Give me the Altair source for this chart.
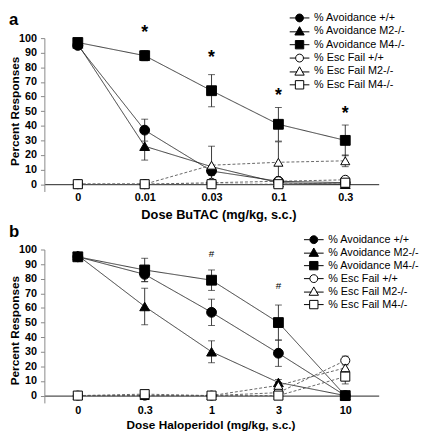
import altair as alt
import pandas as pd

series = ["% Avoidance +/+", "% Avoidance M2-/-", "% Avoidance M4-/-",
          "% Esc Fail +/+", "% Esc Fail M2-/-", "% Esc Fail M4-/-"]
kinds = ["avoid", "avoid", "avoid", "esc", "esc", "esc"]

# Panel a: BuTAC
a_doses = ["0", "0.01", "0.03", "0.1", "0.3"]
a_avoid_wt = [95, 37, 9, 2, 1]
a_avoid_m2 = [96, 26, 12, 1, 0]
a_avoid_m4 = [97, 88, 64, 41, 30]
a_esc_wt = [0, 0, 1, 2, 3]
a_esc_m2 = [0, 0, 13, 15, 16]
a_esc_m4 = [0, 0, 0, 0, 1]
a_err_avoid_wt = [2, 7.5, 3, 1, 0]
a_err_avoid_m2 = [2, 9.5, 0, 0, 0]
a_err_avoid_m4 = [2, 3.5, 11, 11.5, 10.5]
a_err_esc_wt = [0, 0, 0, 1, 1]
a_err_esc_m2 = [0, 0, 13, 14, 4]
a_err_esc_m4 = [0, 0, 0, 0, 0]
a_sig_doses = ["0.01", "0.03", "0.1", "0.3"]
a_sig_y = [104, 87, 61, 49]

# Panel b: Haloperidol
b_doses = ["0", "0.3", "1", "3", "10"]
b_avoid_wt = [95, 83, 57, 29, 0]
b_avoid_m2 = [96, 61, 30, 9, 0]
b_avoid_m4 = [95, 86, 79, 50, 0]
b_esc_wt = [0, 0, 0, 2, 24]
b_esc_m2 = [0, 0, 0, 7, 19]
b_esc_m4 = [0, 1, 0, 0, 13]
b_err_avoid_wt = [2, 5, 9, 9, 0]
b_err_avoid_m2 = [1, 12.5, 7.5, 2, 0]
b_err_avoid_m4 = [2, 8, 7, 12, 0]
b_err_esc_wt = [0, 0, 0, 1, 3]
b_err_esc_m2 = [0, 0, 0, 2, 5]
b_err_esc_m4 = [0, 0, 0, 0, 5]
b_sig_doses = ["1", "3"]
b_sig_y = [97.5, 75]

FONT = "Liberation Sans"
W, H = 340, 156
Y_DOM = [-5, 100]

shapes_main = ["circle", "triangle-up", "square", "circle", "triangle-up", "square"]
fills = ["black", "black", "black", "white", "white", "white"]
legend_paths = [
    "M-2,0H-0.8M0.8,0H2M0.8,0A0.8,0.8,0,1,1,-0.8,0A0.8,0.8,0,1,1,0.8,0Z",
    "M-2,0.1H-0.5M0.5,0.1H2M0,-0.95L0.95,0.75L-0.95,0.75Z",
    "M-2,0H-0.85M0.85,0H2M-0.85,-0.85L0.85,-0.85L0.85,0.85L-0.85,0.85Z",
    "M-2,0H-0.8M0.8,0H2M0.8,0A0.8,0.8,0,1,1,-0.8,0A0.8,0.8,0,1,1,0.8,0Z",
    "M-2,0.1H-0.5M0.5,0.1H2M0,-0.95L0.95,0.75L-0.95,0.75Z",
    "M-2,0H-0.85M0.85,0H2M-0.85,-0.85L0.85,-0.85L0.85,0.85L-0.85,0.85Z",
]


def panel(doses, vals, errs, sig_doses, sig_y, sig_text, sig_size, sig_weight, sig_dy,
          letter, xtitle, xtitle_size, title_x, label_pad, title_pad, title_y,
          leg_sym_x, leg_lab_x, leg_y0, leg_y1):
    rows = []
    for s, k, v, e in zip(series, kinds, vals, errs):
        for d, vv, ee in zip(doses, v, e):
            rows.append(dict(dose=d, series=s, kind=k, value=vv, err=ee,
                             lo=vv - ee, hi=vv + ee))
    df = pd.DataFrame(rows)
    base = alt.Chart(df)

    xs = alt.Scale(type="point", padding=0.5, domain=doses)
    x_axis = alt.Axis(title=xtitle, labelAngle=0, labelFontWeight="bold", labelFontSize=11,
                      labelColor="black", labelPadding=label_pad, ticks=False,
                      domainColor="#222", domainWidth=1, offset=-5 * H / 105,
                      titleFontSize=xtitle_size, titleFontWeight="bold", titleColor="black",
                      titlePadding=title_pad, titleX=title_x, grid=False)
    ys = alt.Scale(domain=Y_DOM, nice=False, zero=False)
    y_axis = alt.Axis(title="Percent Responses", values=list(range(0, 101, 10)),
                      labelFontWeight="bold", labelFontSize=11, labelColor="black",
                      labelPadding=4, tickSize=4, tickColor="#888", domainColor="#888",
                      titleFontSize=12, titleFontWeight="bold", titleColor="black",
                      titlePadding=-3, titleY=title_y, grid=False)
    X = alt.X("dose:N", scale=xs, axis=x_axis, sort=doses)

    lines = base.mark_line(strokeWidth=0.9).encode(
        x=X, y=alt.Y("value:Q", scale=ys, axis=y_axis),
        detail="series:N",
        color=alt.Color("kind:N", scale=alt.Scale(domain=["avoid", "esc"], range=["#222", "#555"]), legend=None),
        strokeDash=alt.StrokeDash("kind:N", scale=alt.Scale(domain=["avoid", "esc"], range=[[1, 0], [3, 2]]), legend=None),
    )
    eb = base.transform_filter("datum.err > 0")
    rules = eb.mark_rule(color="#222", strokeWidth=0.9).encode(
        x=X, y=alt.Y("lo:Q", scale=ys, axis=y_axis), y2="hi:Q")
    cap_lo = eb.mark_tick(color="#222", size=7, thickness=1).encode(
        x=X, y=alt.Y("lo:Q", scale=ys, axis=y_axis))
    cap_hi = eb.mark_tick(color="#222", size=7, thickness=1).encode(
        x=X, y=alt.Y("hi:Q", scale=ys, axis=y_axis))
    pts_avoid = base.transform_filter("datum.kind == 'avoid'").mark_point(
        filled=True, size=100, strokeWidth=1, opacity=1).encode(
        x=X, y=alt.Y("value:Q", scale=ys, axis=y_axis),
        shape=alt.Shape("series:N", scale=alt.Scale(domain=series, range=shapes_main), legend=None),
        fill=alt.Fill("series:N", scale=alt.Scale(domain=series, range=fills), legend=None),
        stroke=alt.value("black"))
    pts_esc = base.transform_filter("datum.kind == 'esc'").mark_point(
        filled=True, size=85, strokeWidth=1, opacity=1).encode(
        x=X, y=alt.Y("value:Q", scale=ys, axis=y_axis),
        shape=alt.Shape("series:N", scale=alt.Scale(domain=series, range=shapes_main), legend=None),
        fill=alt.Fill("series:N", scale=alt.Scale(domain=series, range=fills), legend=None),
        stroke=alt.value("black"))

    sig = alt.Chart(pd.DataFrame({"dose": sig_doses, "sy": sig_y, "t": [sig_text] * len(sig_doses)})).mark_text(
        fontSize=sig_size, fontWeight=sig_weight, baseline="alphabetic", dy=sig_dy, color="black").encode(
        x=X, y=alt.Y("sy:Q", scale=ys, axis=y_axis), text="t:N")

    let = alt.Chart(pd.DataFrame({"t": [letter]})).mark_text(
        fontSize=17, fontWeight="bold", align="left", baseline="top", color="black").encode(
        text="t:N", x=alt.value(-36), y=alt.value(-26))

    data_layer = alt.layer(lines, rules, cap_lo, cap_hi, pts_avoid, pts_esc, sig, let)

    # legend built from the series list
    ldf = pd.DataFrame({"lser": series})
    LY = alt.Y("lser:N", scale=alt.Scale(type="point", domain=series, range=[leg_y0, leg_y1], padding=0),
               axis=None, sort=series)
    leg_sym = alt.Chart(ldf).mark_point(filled=True, size=100, strokeWidth=1, opacity=1,
                                        stroke="black").encode(
        x=alt.value(leg_sym_x), y=LY,
        shape=alt.Shape("lser:N", scale=alt.Scale(domain=series, range=legend_paths), legend=None),
        fill=alt.Fill("lser:N", scale=alt.Scale(domain=series, range=fills), legend=None))
    leg_txt = alt.Chart(ldf).mark_text(align="left", baseline="middle", fontSize=11,
                                       color="black").encode(
        x=alt.value(leg_lab_x), y=LY, text="lser:N")
    legend_layer = alt.layer(leg_sym, leg_txt)

    return alt.layer(data_layer, legend_layer).resolve_scale(
        y="independent", shape="independent", fill="independent").properties(width=W, height=H)


pa = panel(a_doses,
           [a_avoid_wt, a_avoid_m2, a_avoid_m4, a_esc_wt, a_esc_m2, a_esc_m4],
           [a_err_avoid_wt, a_err_avoid_m2, a_err_avoid_m4, a_err_esc_wt, a_err_esc_m2, a_err_esc_m4],
           a_sig_doses, a_sig_y, "*", 18, "bold", 6,
           "a", "Dose BuTAC (mg/kg, s.c.)", 13, 177, 8, 6, 74,
           259.5, 274.3, -20.5, 47.5)
pb = panel(b_doses,
           [b_avoid_wt, b_avoid_m2, b_avoid_m4, b_esc_wt, b_esc_m2, b_esc_m4],
           [b_err_avoid_wt, b_err_avoid_m2, b_err_avoid_m4, b_err_esc_wt, b_err_esc_m2, b_err_esc_m4],
           b_sig_doses, b_sig_y, "#", 10, "normal", 3.5,
           "b", "Dose Haloperidol (mg/kg, s.c.)", 12, 169, 9, 4, 82,
           274, 288.7, -10, 56)

chart = alt.vconcat(pa, pb, spacing=59, bounds="flush").properties(
    padding={"left": 0, "top": 0, "right": 0, "bottom": 0}
).configure(font=FONT).configure_view(stroke=None)

chart.save("out.html", embed_options={"renderer": "svg", "actions": False})
